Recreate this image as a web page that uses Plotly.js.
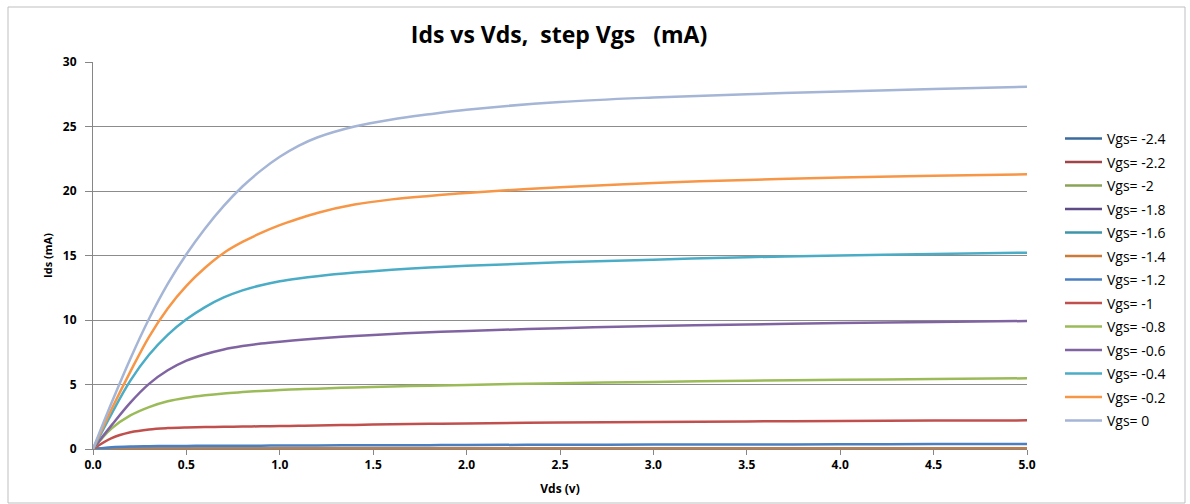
<!DOCTYPE html>
<html>
<head>
<meta charset="utf-8">
<script src="https://cdn.plot.ly/plotly-3.0.1.min.js"></script>
<style>
  html, body { margin: 0; padding: 0; background: #ffffff; }
  #chart { width: 1190px; height: 504px; }
</style>
</head>
<body>
<div id="chart"></div>
<script>
// ---- data ----
const vds = [0, 0.1, 0.2, 0.3, 0.4, 0.5, 0.6, 0.7, 0.8, 0.9, 1.0, 1.1, 1.2, 1.4, 1.6, 1.8, 2.0, 2.5, 3.0, 3.5, 4.0, 4.5, 5.0];

const seriesNames = ["Vgs= -2.4", "Vgs= -2.2", "Vgs= -2", "Vgs= -1.8", "Vgs= -1.6", "Vgs= -1.4",
                     "Vgs= -1.2", "Vgs= -1", "Vgs= -0.8", "Vgs= -0.6", "Vgs= -0.4", "Vgs= -0.2", "Vgs= 0"];

const ids_m24 = [0,0,0,0,0,0,0,0,0,0,0,0,0,0,0,0,0,0,0,0,0,0,0];
const ids_m22 = [0,0,0,0,0,0,0,0,0,0,0,0,0,0,0,0,0,0,0,0,0,0,0];
const ids_m20 = [0,0,0,0,0,0,0,0,0,0,0,0,0,0,0,0,0,0,0,0,0,0,0];
const ids_m18 = [0,0,0,0,0,0,0,0,0,0,0,0,0,0,0,0,0,0,0,0,0,0,0];
const ids_m16 = [0,0,0,0,0,0,0,0,0,0,0,0,0,0,0,0,0,0,0,0,0,0,0];
const ids_m14 = [0,0.01,0.015,0.02,0.02,0.02,0.025,0.025,0.025,0.025,0.03,0.03,0.03,0.03,0.03,0.035,0.035,0.04,0.04,0.04,0.045,0.045,0.05];
const ids_m12 = [0,0.14,0.2,0.22,0.23,0.24,0.25,0.25,0.26,0.26,0.27,0.27,0.28,0.29,0.3,0.3,0.31,0.33,0.34,0.35,0.36,0.38,0.39];
const ids_m10 = [0,0.85,1.3,1.52,1.62,1.67,1.7,1.72,1.74,1.76,1.78,1.8,1.82,1.87,1.91,1.95,1.98,2.05,2.1,2.14,2.17,2.2,2.22];
const ids_m08 = [0,1.6,2.6,3.25,3.7,3.98,4.17,4.31,4.41,4.5,4.57,4.63,4.68,4.77,4.84,4.91,4.97,5.1,5.2,5.29,5.36,5.43,5.48];
const ids_m06 = [0,1.85,3.6,5.05,6.1,6.85,7.35,7.72,7.98,8.17,8.32,8.45,8.56,8.76,8.92,9.05,9.15,9.37,9.53,9.66,9.76,9.85,9.92];
const ids_m04 = [0,2.75,5.3,7.3,8.85,10.05,11.0,11.75,12.3,12.7,13.0,13.22,13.4,13.68,13.9,14.07,14.2,14.47,14.68,14.87,15.0,15.12,15.22];
const ids_m02 = [0,3.1,6.0,8.7,10.9,12.65,14.05,15.2,16.05,16.75,17.35,17.85,18.3,18.95,19.35,19.62,19.85,20.3,20.62,20.86,21.04,21.18,21.29];
const ids_00  = [0,3.6,7.0,10.1,12.8,15.1,17.1,18.85,20.35,21.6,22.65,23.5,24.15,25.0,25.55,25.95,26.3,26.9,27.25,27.5,27.72,27.9,28.08];

const seriesValues = [ids_m24, ids_m22, ids_m20, ids_m18, ids_m16, ids_m14,
                      ids_m12, ids_m10, ids_m08, ids_m06, ids_m04, ids_m02, ids_00];

const xTickVals = [0, 0.5, 1.0, 1.5, 2.0, 2.5, 3.0, 3.5, 4.0, 4.5, 5.0];
const yTickVals = [0, 5, 10, 15, 20, 25, 30];

// ---- styling ----
const colors = ["#3B6A9E", "#A0444A", "#8AA356", "#5E4A85", "#3C95A8", "#CC7A3A",
                "#4A7FC1", "#C0504D", "#9BBB59", "#8064A2", "#4BACC6", "#F79646", "#A5B5D6"];

const FONT = "'Open Sans', 'DejaVu Sans', sans-serif";

const traces = seriesNames.map((name, i) => ({
  type: 'scatter',
  mode: 'lines',
  name: name,
  legendgroup: 'g' + i,
  x: vds,
  y: seriesValues[i],
  line: { color: colors[i], width: 2.5, shape: 'spline', smoothing: 1 },
  hoverinfo: 'skip'
}));

// plot area in pixels
const W = 1190, H = 504;
const L = 93, R = 1027, T = 62, B = 449;
const pw = R - L, ph = B - T;
const px2x = p => (p - L) / pw;
const px2y = p => (B - p) / ph;

const layout = {
  width: W,
  height: H,
  margin: { l: L, r: W - R, t: T, b: H - B, pad: 0 },
  paper_bgcolor: '#ffffff',
  plot_bgcolor: '#ffffff',
  showlegend: true,
  font: { family: FONT, color: '#000000' },
  title: {
    text: '<b>Ids vs Vds,\u00a0\u00a0step Vgs\u00a0\u00a0\u00a0(mA)</b>',
    font: { family: FONT, size: 23, color: '#000000' },
    x: 559 / W,
    xanchor: 'center',
    y: 1 - 35 / H,
    yanchor: 'middle'
  },
  xaxis: {
    range: [0, 5],
    tickvals: xTickVals,
    tickformat: '.1f',
    ticks: 'outside',
    ticklen: 5,
    tickcolor: '#868686',
    showline: true,
    linecolor: '#868686',
    linewidth: 1,
    showgrid: false,
    zeroline: false,
    tickfont: { family: FONT, size: 12, color: '#000000', weight: 'bold' },
    title: { text: '<b>Vds (v)</b>', font: { family: FONT, size: 12, color: '#000000' }, standoff: 12 },
    fixedrange: true
  },
  yaxis: {
    range: [0, 30],
    tickvals: yTickVals,
    ticks: 'outside',
    ticklen: 7,
    tickcolor: '#868686',
    ticklabelstandoff: 6,
    showline: true,
    linecolor: '#868686',
    linewidth: 1,
    showgrid: true,
    gridcolor: '#8C8C8C',
    gridwidth: 1,
    zeroline: false,
    tickfont: { family: FONT, size: 12, color: '#000000', weight: 'bold' },
    title: { text: '<b>Ids (mA)</b>', font: { family: FONT, size: 11, color: '#000000' }, standoff: 8 },
    fixedrange: true
  },
  legend: {
    x: px2x(1060),
    xanchor: 'left',
    y: px2y(123),
    yanchor: 'top',
    bgcolor: 'rgba(0,0,0,0)',
    borderwidth: 0,
    font: { family: FONT, size: 14, color: '#000000' },
    tracegroupgap: 2.3,
    traceorder: 'grouped',
    itemwidth: 37
  },
  shapes: [{
    type: 'rect', xref: 'paper', yref: 'paper',
    x0: px2x(8), x1: px2x(1185), y0: px2y(503), y1: px2y(7),
    line: { color: '#BFBFBF', width: 1 },
    fillcolor: 'rgba(0,0,0,0)',
    layer: 'below'
  }]
};

Plotly.newPlot('chart', traces, layout, { staticPlot: true, displayModeBar: false });
</script>
</body>
</html>
